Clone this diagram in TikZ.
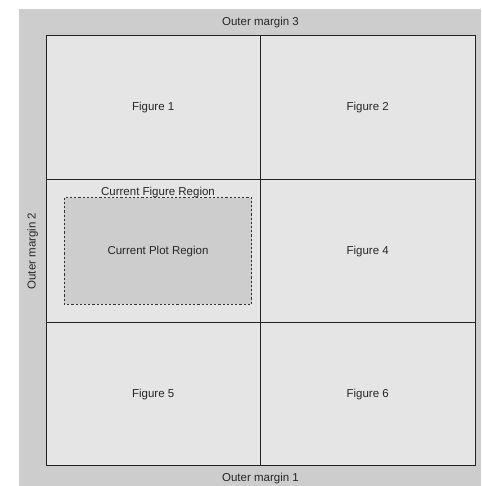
\documentclass[tikz,border=0pt]{standalone}
\usepackage{fontspec}
\setmainfont{Liberation Sans}
\definecolor{outergray}{HTML}{CDCDCD}
\definecolor{cellgray}{HTML}{E5E5E5}
\definecolor{plotgray}{HTML}{CDCDCD}
\definecolor{linegray}{HTML}{222222}
\begin{document}
\begin{tikzpicture}[x=1pt,y=-1pt,
  lbl/.style={font=\fontsize{11.5}{13}\selectfont, text=black!85, inner sep=0pt, anchor=base},
  gridline/.style={draw=linegray, line width=1pt},
  plotbox/.style={draw=black!80, fill=plotgray, line width=0.9pt, dash pattern=on 2.2pt off 2pt}]
\useasboundingbox (0,0) rectangle (481,486);
\fill[white] (0,0) rectangle (481,486);
% outer margin region
\fill[outergray] (19,9) rectangle (481,486);
% inner figure area
\fill[cellgray] (46,36) rectangle (475,465.5);
\draw[gridline] (46,36) rectangle (475,465.5);
\draw[gridline] (260.5,36) -- (260.5,465.5);
\draw[gridline] (46,179.2) -- (475,179.2);
\draw[gridline] (46,322.3) -- (475,322.3);
% current plot region
\draw[plotbox] (64.3,197.7) rectangle (251.7,304);
% labels (positions are baselines)
\node[lbl] (om3) at (260.5,25.2) {Outer margin 3};
\node[lbl] (om1) at (260.5,481.5) {Outer margin 1};
\node[lbl, rotate=90] (om2) at (35.6,251) {Outer margin 2};
\node[lbl] (f1) at (153.2,110.7) {Figure 1};
\node[lbl] (f2) at (367.7,110.7) {Figure 2};
\node[lbl] (f4) at (367.7,254.2) {Figure 4};
\node[lbl] (f5) at (153.2,397) {Figure 5};
\node[lbl] (f6) at (367.7,397) {Figure 6};
\node[lbl] (cfr) at (158,196) {Current Figure Region};
\node[lbl] (cpr) at (158,254.2) {Current Plot Region};
\end{tikzpicture}
\end{document}
